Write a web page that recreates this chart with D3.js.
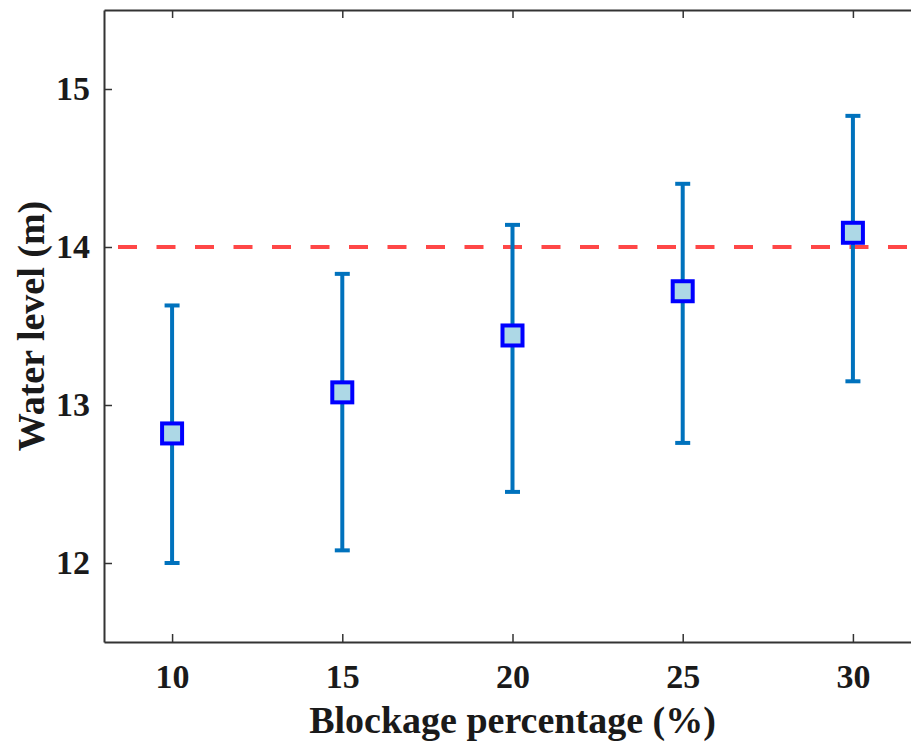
<!DOCTYPE html>
<html>
<head>
<meta charset="utf-8">
<script src="https://cdn.jsdelivr.net/npm/d3@7"></script>
<style>
  body { margin: 0; background: #fff; }
  svg { display: block; }
  .tick text { font-family: "Liberation Serif", "Times New Roman", serif; font-weight: bold; }
</style>
</head>
<body>
<div id="chart"></div>
<script>
// blockage % on x axis
var blockage = [10, 15, 20, 25, 30];
// mean water level and the error bar ends (m)
var meanLevel = [12.82, 13.08, 13.44, 13.72, 14.09];
var upperLevel = [13.63, 13.83, 14.14, 14.40, 14.83];
var lowerLevel = [12.00, 12.08, 12.45, 12.76, 13.15];
// threshold line
var threshold = [14];
var xTicks = [10, 15, 20, 25, 30];
var yTicks = [12, 13, 14, 15];

var width = 911, height = 742;
var margin = {left: 104, top: 10, right: -10, bottom: 100};

var svg = d3.select("#chart").append("svg")
    .attr("width", width)
    .attr("height", height);

var x = d3.scaleLinear().domain([8, 32]).range([margin.left, width - margin.right]);
var y = d3.scaleLinear().domain([11.5, 15.5]).range([height - margin.bottom, margin.top]);

var axisColor = "#333";

// bottom axis, ticks point inward
var gx = svg.append("g")
    .attr("transform", "translate(0," + y(11.5) + ")")
    .call(d3.axisBottom(x).tickValues(xTicks).tickFormat(d3.format("d")).tickSizeInner(-8).tickSizeOuter(0).tickPadding(22));
gx.selectAll("text").attr("font-size", 34).attr("fill", "#1a1a1a").attr("dy", "0.71em");

// top axis mirror
var gxTop = svg.append("g")
    .attr("transform", "translate(0," + y(15.5) + ")")
    .call(d3.axisTop(x).tickValues(xTicks).tickSizeInner(-8).tickSizeOuter(0).tickFormat(""));

// left axis
var gy = svg.append("g")
    .attr("transform", "translate(" + x(8) + ",0)")
    .call(d3.axisLeft(y).tickValues(yTicks).tickFormat(d3.format("d")).tickSizeInner(-8).tickSizeOuter(0).tickPadding(14));
gy.selectAll("text").attr("font-size", 34).attr("fill", "#1a1a1a");

svg.selectAll(".domain").attr("stroke", axisColor).attr("stroke-width", 2);
svg.selectAll(".tick line").attr("stroke", axisColor).attr("stroke-width", 1.5);

// red dashed threshold
svg.selectAll(".thresh")
    .data(threshold)
    .enter().append("line")
    .attr("class", "thresh")
    .attr("x1", x(8))
    .attr("x2", x(32))
    .attr("y1", function(d) { return y(d); })
    .attr("y2", function(d) { return y(d); })
    .attr("stroke", "#ff4747")
    .attr("stroke-width", 4)
    .attr("stroke-dasharray", "19,19.5")
    .attr("stroke-dashoffset", -14);

var rows = blockage.map(function(b, i) {
    return {b: b, m: meanLevel[i], hi: upperLevel[i], lo: lowerLevel[i]};
});

var barColor = "#0072bd", capW = 7.5;
var bars = svg.selectAll(".err").data(rows).enter().append("g").attr("class", "err");

bars.append("line")
    .attr("x1", function(d) { return x(d.b); })
    .attr("x2", function(d) { return x(d.b); })
    .attr("y1", function(d) { return y(d.hi); })
    .attr("y2", function(d) { return y(d.lo); })
    .attr("stroke", barColor).attr("stroke-width", 4);

bars.append("line")
    .attr("x1", function(d) { return x(d.b) - capW; })
    .attr("x2", function(d) { return x(d.b) + capW; })
    .attr("y1", function(d) { return y(d.hi); })
    .attr("y2", function(d) { return y(d.hi); })
    .attr("stroke", barColor).attr("stroke-width", 4);

bars.append("line")
    .attr("x1", function(d) { return x(d.b) - capW; })
    .attr("x2", function(d) { return x(d.b) + capW; })
    .attr("y1", function(d) { return y(d.lo); })
    .attr("y2", function(d) { return y(d.lo); })
    .attr("stroke", barColor).attr("stroke-width", 4);

// square markers
var sq = 20;
bars.append("rect")
    .attr("x", function(d) { return x(d.b) - sq / 2; })
    .attr("y", function(d) { return y(d.m) - sq / 2; })
    .attr("width", sq)
    .attr("height", sq)
    .attr("fill", "#add8e6")
    .attr("stroke", "#0000ff")
    .attr("stroke-width", 4);

// axis titles
svg.append("text")
    .attr("x", x(20))
    .attr("y", 733)
    .attr("text-anchor", "middle")
    .attr("font-family", "Liberation Serif, Times New Roman, serif")
    .attr("font-weight", "bold")
    .attr("font-size", 38)
    .attr("fill", "#1a1a1a")
    .text("Blockage percentage (%)");

svg.append("text")
    .attr("transform", "translate(44," + y(13.5) + ") rotate(-90)")
    .attr("text-anchor", "middle")
    .attr("font-family", "Liberation Serif, Times New Roman, serif")
    .attr("font-weight", "bold")
    .attr("font-size", 38)
    .attr("fill", "#1a1a1a")
    .text("Water level (m)");
</script>
</body>
</html>
